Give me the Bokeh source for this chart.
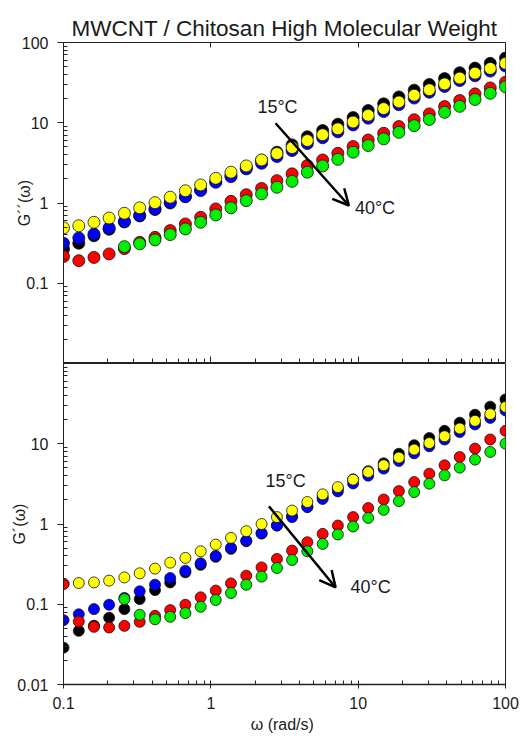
import math
from bokeh.plotting import figure
from bokeh.layouts import column
from bokeh.models import (FixedTicker, CustomJSTickFormatter, Arrow, CustomLabelingPolicy,
                          OpenHead, Label, Range1d, ColumnDataSource, LogAxis)
from bokeh.embed import file_html
from bokeh.resources import INLINE

NaN = float("nan")

# ---------------- data ----------------
omega = [0.1, 0.127, 0.161, 0.204, 0.259, 0.329, 0.418, 0.530, 0.672, 0.853,
         1.08, 1.37, 1.74, 2.21, 2.81, 3.56, 4.52, 5.74, 7.28, 9.24,
         11.7, 14.9, 18.9, 24.0, 30.4, 38.6, 48.9, 62.1, 78.8, 100.0]

# G''(omega) - loss modulus (top panel)
gpp_black = [0.267, 0.315, 0.39, 0.47, 0.58, 0.69, 0.83, 1.0, 1.2, 1.45,
             1.85, 2.2, 2.75, 3.4, 4.3, 5.3, 6.7, 8.0, 9.6, 11.6,
             14.2, 17.2, 21.0, 25.5, 30.0, 35.5, 42.0, 48.0, 55.0, 64.0]
gpp_blue = [0.315, 0.367, 0.41, 0.49, 0.59, 0.70, 0.84, 1.02, 1.2, 1.43,
            1.81, 2.13, 2.66, 3.12, 3.79, 4.5, 5.5, 6.5, 7.7, 9.4,
            11.4, 13.8, 16.8, 20.3, 24.0, 28.3, 33.5, 38.5, 44.0, 51.0]
gpp_yellow = [0.49, 0.52, 0.575, 0.65, 0.745, 0.87, 1.01, 1.18, 1.42, 1.68,
              2.03, 2.42, 2.9, 3.44, 4.13, 4.9, 6.0, 7.1, 8.4, 10.2,
              12.4, 15.0, 18.2, 22.0, 25.8, 30.5, 36.0, 41.5, 47.5, 55.0]
gpp_red = [0.215, 0.191, 0.21, 0.232, 0.27, 0.324, 0.373, 0.453, 0.548, 0.664,
           0.844, 1.05, 1.27, 1.52, 1.9, 2.31, 2.93, 3.44, 4.17, 5.05,
           6.1, 7.4, 8.97, 10.9, 12.9, 15.9, 18.9, 22.9, 27.2, 32.0]
gpp_green = [NaN, NaN, NaN, NaN, 0.286, 0.31, 0.347, 0.404, 0.475, 0.575,
             0.71, 0.87, 1.07, 1.3, 1.57, 1.86, 2.42, 2.9, 3.5, 4.3,
             5.2, 6.3, 7.6, 9.2, 11.0, 13.5, 16.0, 19.5, 23.3, 28.0]

# G'(omega) - storage modulus (bottom panel)
gp_black = [0.0288, 0.0467, 0.054, 0.068, 0.087, 0.116, 0.15, 0.187, 0.25, 0.31,
            0.39, 0.49, 0.61, 0.76, 0.96, 1.25, 1.65, 2.15, 2.75, 3.6,
            4.55, 5.7, 7.5, 9.6, 11.8, 14.5, 18.3, 23.0, 29.0, 35.7]
gp_blue = [0.0634, 0.075, 0.087, 0.0986, 0.12, 0.145, 0.175, 0.212, 0.262, 0.324,
           0.4, 0.504, 0.622, 0.768, 0.957, 1.22, 1.62, 2.05, 2.55, 3.2,
           4.0, 4.9, 6.1, 7.6, 9.3, 11.3, 14.0, 17.4, 21.0, 26.0]
gp_yellow = [0.18, 0.184, 0.187, 0.197, 0.216, 0.243, 0.278, 0.33, 0.378, 0.457,
             0.554, 0.672, 0.813, 1.0, 1.22, 1.47, 1.88, 2.34, 2.88, 3.57,
             4.44, 5.39, 6.72, 8.46, 10.2, 12.4, 15.5, 19.3, 23.4, 28.8]
gp_red = [0.179, 0.061, 0.0523, 0.0513, 0.0538, 0.0604, 0.0718, 0.0845, 0.0986, 0.122,
          0.148, 0.182, 0.227, 0.288, 0.367, 0.467, 0.593, 0.754, 0.957, 1.22,
          1.58, 2.02, 2.57, 3.33, 4.24, 5.39, 6.84, 8.7, 11.3, 14.5]
gp_green = [NaN, NaN, NaN, NaN, 0.116, 0.074, 0.065, 0.0698, 0.0776, 0.093,
            0.113, 0.138, 0.175, 0.221, 0.283, 0.356, 0.457, 0.565, 0.74, 0.93,
            1.19, 1.5, 1.93, 2.5, 3.18, 4.04, 5.04, 6.34, 7.9, 10.05]

series_colors = ["#000000", "#0000ff", "#ffff00", "#ff0000", "#00ee00"]
top_series = [gpp_black, gpp_blue, gpp_yellow, gpp_red, gpp_green]
bottom_series = [gp_black, gp_blue, gp_yellow, gp_red, gp_green]

x_ticks = [0.1, 1, 10, 100]
top_y_ticks = [0.1, 1, 10, 100]
bottom_y_ticks = [0.01, 0.1, 1, 10]
title_text = "MWCNT / Chitosan High Molecular Weight"
x_label = "ω  (rad/s)"
top_y_label = "G´´(ω)"
bottom_y_label = "G´(ω)"

# ---------------- styling ----------------
FONT = "Liberation Sans"
minor = [m * 10.0 ** e for e in range(-3, 3) for m in range(2, 10)]
fmt = CustomJSTickFormatter(code="return tick.toString();")
no_labels = CustomLabelingPolicy(code="return new Set();")
AX = "#222222"
TXT = "#1a1a1a"

W = 523
LEFT = 63
RIGHT = 18
FRAME_H = 321


def style_y(ax, ticks):
    ax.ticker = FixedTicker(ticks=ticks, minor_ticks=minor)
    ax.formatter = fmt
    ax.major_label_text_font = FONT
    ax.major_label_text_font_size = "16px"
    ax.major_label_text_color = TXT
    ax.major_label_standoff = 9
    ax.major_tick_out = 6
    ax.major_tick_in = 0
    ax.minor_tick_out = 0
    ax.minor_tick_in = 4
    ax.axis_line_color = AX
    ax.major_tick_line_color = AX
    ax.minor_tick_line_color = AX
    ax.axis_label_text_font = FONT
    ax.axis_label_text_font_size = "16px"
    ax.axis_label_text_font_style = "normal"
    ax.axis_label_text_color = TXT
    ax.axis_label_standoff = -14


def style_x_common(ax):
    ax.ticker = FixedTicker(ticks=x_ticks, minor_ticks=minor)
    ax.formatter = fmt
    ax.major_label_text_font = FONT
    ax.major_label_text_font_size = "16px"
    ax.major_label_text_color = TXT
    ax.axis_line_color = AX
    ax.major_tick_line_color = AX
    ax.minor_tick_line_color = AX


def make_fig(height, top_border, bottom_border, y_ticks, y_label, series, size):
    p = figure(width=W, height=height, x_axis_type="log", y_axis_type="log",
               x_range=Range1d(0.1, 100), y_range=Range1d(0.01, 100),
               output_backend="svg", toolbar_location=None,
               min_border_left=LEFT, min_border_right=RIGHT,
               min_border_top=top_border, min_border_bottom=bottom_border)
    p.grid.visible = False
    p.outline_line_color = AX
    p.outline_line_width = 1
    p.background_fill_color = "white"
    p.border_fill_color = "white"
    style_y(p.yaxis[0], y_ticks)
    p.yaxis[0].axis_label = y_label
    for ys, c in zip(series, series_colors):
        src = ColumnDataSource(dict(x=omega, y=ys))
        p.scatter("x", "y", source=src, size=size, fill_color=c,
                  line_color="#111111", line_width=0.8)
    return p


# ---------------- top panel ----------------
top = make_fig(42 + FRAME_H, 42, 0, top_y_ticks, top_y_label, top_series, 12)
top.title.text = title_text
top.title.align = "center"
top.title.text_font = FONT
top.title.text_font_size = "22.5px"
top.title.text_font_style = "normal"
top.title.text_color = TXT
top.title.standoff = 4

xb = top.xaxis[0]
style_x_common(xb)
xb.fixed_location = 0.01          # drawn on the frame edge, takes no border space
xb.major_label_policy = no_labels
xb.axis_line_width = 1.5
xb.major_tick_out = 0
xb.major_tick_in = 7
xb.minor_tick_out = 0
xb.minor_tick_in = 5

xa = LogAxis(fixed_location=100)
style_x_common(xa)
xa.major_label_policy = no_labels
xa.major_tick_out = 0
xa.major_tick_in = 5
xa.minor_tick_out = 0
xa.minor_tick_in = 0
top.add_layout(xa, "above")

# ---------------- bottom panel ----------------
BOTTOM_BORDER = 52
bottom = make_fig(FRAME_H + BOTTOM_BORDER, 0, BOTTOM_BORDER, bottom_y_ticks,
                  bottom_y_label, bottom_series, 11)
xl = bottom.xaxis[0]
style_x_common(xl)
xl.axis_line_width = 1.5
xl.major_label_standoff = 8
xl.major_tick_out = 4
xl.major_tick_in = 4
xl.minor_tick_out = 0
xl.minor_tick_in = 4
xl.axis_label = x_label
xl.axis_label_text_font = FONT
xl.axis_label_text_font_size = "16px"
xl.axis_label_text_font_style = "normal"
xl.axis_label_text_color = TXT
xl.axis_label_standoff = 4


def annotate(p, t_hi, t_lo, arrow_start, arrow_end):
    p.add_layout(Label(x=t_hi[0], y=t_hi[1], text="15°C", text_font=FONT,
                       text_font_size="18px", text_color=TXT))
    p.add_layout(Label(x=t_lo[0], y=t_lo[1], text="40°C", text_font=FONT,
                       text_font_size="18px", text_color=TXT))
    p.add_layout(Arrow(x_start=arrow_start[0], y_start=arrow_start[1],
                       x_end=arrow_end[0], y_end=arrow_end[1],
                       line_width=2.5, line_color="black",
                       end=OpenHead(size=16, line_width=2.5, line_color="black")))


annotate(top, (2.07, 11.8), (9.5, 0.658), (2.75, 9.86), (8.65, 0.93))
annotate(bottom, (2.35, 2.59), (8.87, 0.122), (2.48, 1.66), (7.03, 0.162))

layout = column(top, bottom, spacing=0)
open("out.html", "w").write(file_html(layout, INLINE))
